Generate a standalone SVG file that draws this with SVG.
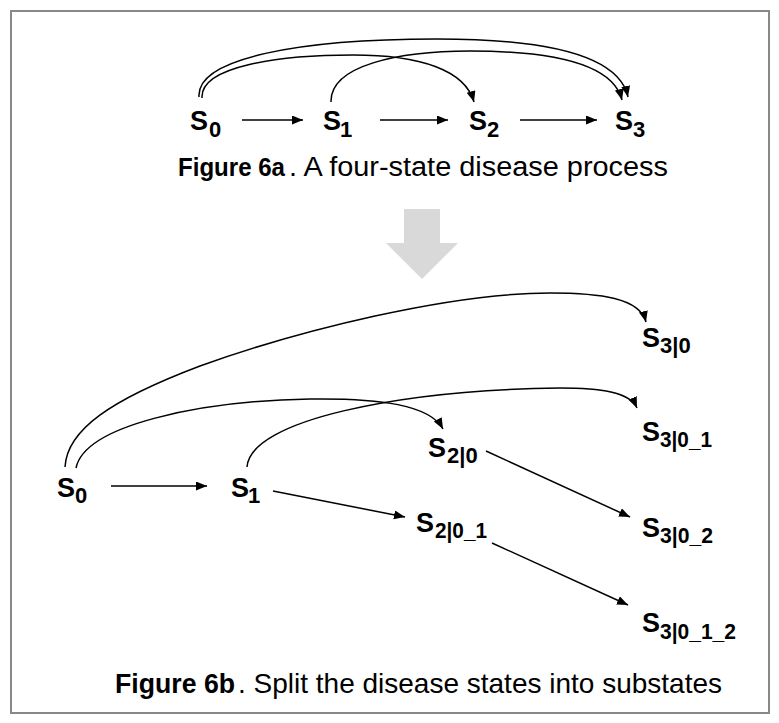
<svg xmlns="http://www.w3.org/2000/svg" width="779" height="723" viewBox="0 0 779 723">
<style>
.s{font-family:"Liberation Sans",Arial,sans-serif;font-weight:bold;font-size:27px;fill:#000}
.sub{font-family:"Liberation Sans",Arial,sans-serif;font-weight:bold;font-size:22px;fill:#000}
.capb{font-family:"Liberation Sans",Arial,sans-serif;font-weight:bold;fill:#000}
.capr{font-family:"Liberation Sans",Arial,sans-serif;fill:#000}
.c{fill:none;stroke:#000;stroke-width:1.5;marker-end:url(#ah)}
</style>
<defs>
<marker id="ah" markerUnits="userSpaceOnUse" markerWidth="12" markerHeight="10" refX="11" refY="4.5" orient="auto">
<path d="M0,0 L11,4.5 L0,9 z" fill="#000"/>
</marker>
</defs>
<rect x="0" y="0" width="779" height="723" fill="#fff"/>
<rect x="11" y="11" width="758" height="702" fill="#fff" stroke="#888" stroke-width="2"/>

<g id="connectors">
<path class="c" d="M242,120 L303,120"/>
<path class="c" d="M380,120 L448,120"/>
<path class="c" d="M520,120 L597,120"/>
<path class="c" d="M199,97 C 196,58 300,39 437,39 C 560,39 620,60 628,97"/>
<path class="c" d="M202,98 C 200,66 280,55 353,55 C 420,55 465,70 474,102"/>
<path class="c" d="M331,102 C 330,65 400,51 470,51 C 540,51 612,60 622,100"/>
<path class="c" d="M111,486 L207,486"/>
<path class="c" d="M273,491 L405,517"/>
<path class="c" d="M486,451 L630,517"/>
<path class="c" d="M492,543 L628,605"/>
<path class="c" d="M65,467 C 67,430 110,400 200,366 C 300,330 450,293 550,293 C 600,293 640,298 646,322"/>
<path class="c" d="M76,468 C 85,425 200,401 310,399 C 380,398 430,405 443,429"/>
<path class="c" d="M247,467 C 250,420 400,390 560,388 C 600,388 630,392 637,408"/>
</g>

<g id="big-arrow">
<polygon points="404,209 440,209 440,243 458,243 422,279 386,243 404,243" fill="#d9d9d9"/>
</g>

<g id="a-S0"><text class="s" x="190" y="130">S</text><text class="sub" x="209" y="137">0</text></g>
<g id="a-S1"><text class="s" x="323" y="130">S</text><text class="sub" x="340" y="137">1</text></g>
<g id="a-S2"><text class="s" x="469" y="130">S</text><text class="sub" x="487" y="137">2</text></g>
<g id="a-S3"><text class="s" x="615" y="130">S</text><text class="sub" x="633" y="137">3</text></g>

<g id="caption-a">
<text class="capb" x="178" y="176" font-size="25.5" textLength="107" lengthAdjust="spacingAndGlyphs">Figure 6a</text>
<text class="capr" x="289" y="176" font-size="27" textLength="379" lengthAdjust="spacingAndGlyphs">. A four-state disease process</text>
</g>

<g id="b-S0"><text class="s" x="57" y="497">S</text><text class="sub" x="75" y="503">0</text></g>
<g id="b-S1"><text class="s" x="231" y="497">S</text><text class="sub" x="248" y="503">1</text></g>
<g id="b-S2-0"><text class="s" x="428" y="457">S</text><text class="sub" x="447" y="463">2|0</text></g>
<g id="b-S2-0-1"><text class="s" x="416" y="532">S</text><text class="sub" x="435" y="538" textLength="52" lengthAdjust="spacingAndGlyphs">2|0_1</text></g>
<g id="b-S3-0"><text class="s" x="642" y="347">S</text><text class="sub" x="660" y="353">3|0</text></g>
<g id="b-S3-0-1"><text class="s" x="642" y="441">S</text><text class="sub" x="660" y="447" textLength="52" lengthAdjust="spacingAndGlyphs">3|0_1</text></g>
<g id="b-S3-0-2"><text class="s" x="642" y="537">S</text><text class="sub" x="660" y="543" textLength="53" lengthAdjust="spacingAndGlyphs">3|0_2</text></g>
<g id="b-S3-0-1-2"><text class="s" x="642" y="632">S</text><text class="sub" x="660" y="639" textLength="76" lengthAdjust="spacingAndGlyphs">3|0_1_2</text></g>

<g id="caption-b">
<text class="capb" x="115" y="693" font-size="28" textLength="120" lengthAdjust="spacingAndGlyphs">Figure 6b</text>
<text class="capr" x="238" y="693" font-size="28" textLength="484" lengthAdjust="spacingAndGlyphs">. Split the disease states into substates</text>
</g>
</svg>
